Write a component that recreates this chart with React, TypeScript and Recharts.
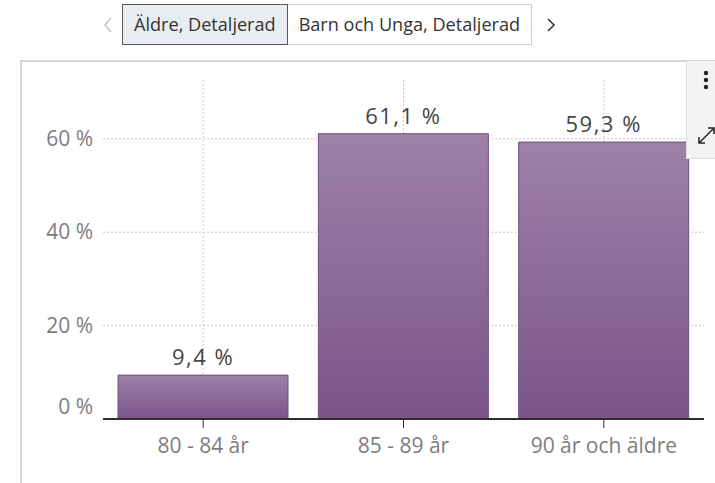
import React from "react";
import { BarChart, Bar, XAxis, YAxis, CartesianGrid, LabelList } from "recharts";

const categories = ["80 - 84 år", "85 - 89 år", "90 år och äldre"];
const shares = [9.4, 61.1, 59.3];
const yTicks = [0, 20, 40, 60];
const tabs = ["Äldre, Detaljerad", "Barn och Unga, Detaljerad"];

const data = categories.map((name, i) => ({ name, value: shares[i] }));

const FONT = "'Open Sans', 'Noto Sans', sans-serif";

const fmtPct = (v: number) => `${v.toFixed(1).replace(".", ",")} %`;

const YTick = (props: any) => {
  const { x, y, payload } = props;
  // the 0 % label sits a bit above the baseline in the original
  const shift = payload.value === 0 ? -12 : 0;
  return (
    <text
      x={x - 2}
      y={y + shift}
      dy={7}
      textAnchor="end"
      fill="#7d7d7d"
      fontSize={21}
      fontFamily={FONT}
    >
      {`${payload.value} %`}
    </text>
  );
};

const XTick = (props: any) => {
  const { x, y, payload } = props;
  return (
    <text
      x={x}
      y={y}
      dy={23}
      textAnchor="middle"
      fill="#7d7d7d"
      fontSize={21}
      fontFamily={FONT}
    >
      {payload.value}
    </text>
  );
};

const App: React.FC = () => {
  return (
    <div
      style={{
        position: "absolute",
        left: 0,
        top: 0,
        width: 715,
        height: 483,
        overflow: "hidden",
        background: "#fff",
        fontFamily: FONT,
      }}
    >
      {/* tab strip */}
      <svg style={{ position: "absolute", left: 101, top: 15 }} width={14} height={20}>
        <polyline points="10,3 4,10 10,17" fill="none" stroke="#c4c4c4" strokeWidth={1.5} />
      </svg>
      <div
        style={{
          position: "absolute",
          left: 122,
          top: 4,
          height: 41,
          display: "flex",
          fontSize: 18.1,
          color: "#333",
        }}
      >
        {tabs.map((t, i) => (
          <div
            key={t}
            style={{
              padding: "0 11px",
              lineHeight: "39px",
              background: i === 0 ? "#e9edf1" : "#fff",
              border: i === 0 ? "1px solid #555" : "1px solid #ccc",
              borderLeft: i === 0 ? "1px solid #555" : "none",
              whiteSpace: "nowrap",
            }}
          >
            {t}
          </div>
        ))}
      </div>
      <svg style={{ position: "absolute", left: 544, top: 15 }} width={14} height={20}>
        <polyline points="4,4 10,10 4,16" fill="none" stroke="#333" strokeWidth={1.5} />
      </svg>

      {/* panel */}
      <div
        style={{
          position: "absolute",
          left: 20,
          top: 60,
          width: 720,
          height: 460,
          border: "2px solid #d6d6d6",
          boxSizing: "border-box",
        }}
      />
      <div
        style={{
          position: "absolute",
          left: 686,
          top: 61,
          width: 32,
          height: 97,
          background: "#f3f3f3",
          borderLeft: "1px solid #dcdcdc",
          borderBottom: "1px solid #dcdcdc",
          zIndex: 2,
        }}
      >
        <svg width={32} height={97}>
          <circle cx={19} cy={12} r={2.2} fill="#222" />
          <circle cx={19} cy={19} r={2.2} fill="#222" />
          <circle cx={19} cy={26} r={2.2} fill="#222" />
          <line x1={12} y1={82} x2={27} y2={67} stroke="#222" strokeWidth={1.5} />
          <polyline points="12,76 12,82 18,82" fill="none" stroke="#222" strokeWidth={1.5} />
          <polyline points="21,67 27,67 27,73" fill="none" stroke="#222" strokeWidth={1.5} />
        </svg>
      </div>

      <div style={{ position: "absolute", left: 0, top: 0 }}>
        <BarChart
          width={715}
          height={483}
          data={data}
          margin={{ top: 80, right: 11, bottom: 34, left: 23 }}
          barCategoryGap="7.5%"
        >
          <defs>
            <linearGradient id="barFill" x1="0" y1="0" x2="0" y2="1">
              <stop offset="0%" stopColor="#9d82a9" />
              <stop offset="100%" stopColor="#7b5489" />
            </linearGradient>
          </defs>
          <CartesianGrid
            stroke="#c8c8c8"
            strokeDasharray="2 2"
            horizontalValues={[20, 40, 60]}
            verticalValues={categories}
          />
          <XAxis
            dataKey="name"
            axisLine={{ stroke: "#2e2e2e", strokeWidth: 2 }}
            tickLine={{ stroke: "#2e2e2e", strokeWidth: 1 }}
            tickSize={9}
            height={30}
            tick={<XTick />}
          />
          <YAxis
            domain={[0, 72.6]}
            ticks={yTicks}
            axisLine={false}
            tickLine={false}
            width={80}
            tick={<YTick />}
          />
          <Bar
            dataKey="value"
            fill="url(#barFill)"
            stroke="#6d4f7a"
            strokeWidth={1}
            isAnimationActive={false}
          >
            <LabelList
              dataKey="value"
              position="top"
              offset={10}
              formatter={(v: any) => fmtPct(Number(v))}
              fill="#444"
              fontSize={22}
              letterSpacing={1.5}
              fontFamily={FONT}
            />
          </Bar>
        </BarChart>
      </div>
    </div>
  );
};

export default App;
